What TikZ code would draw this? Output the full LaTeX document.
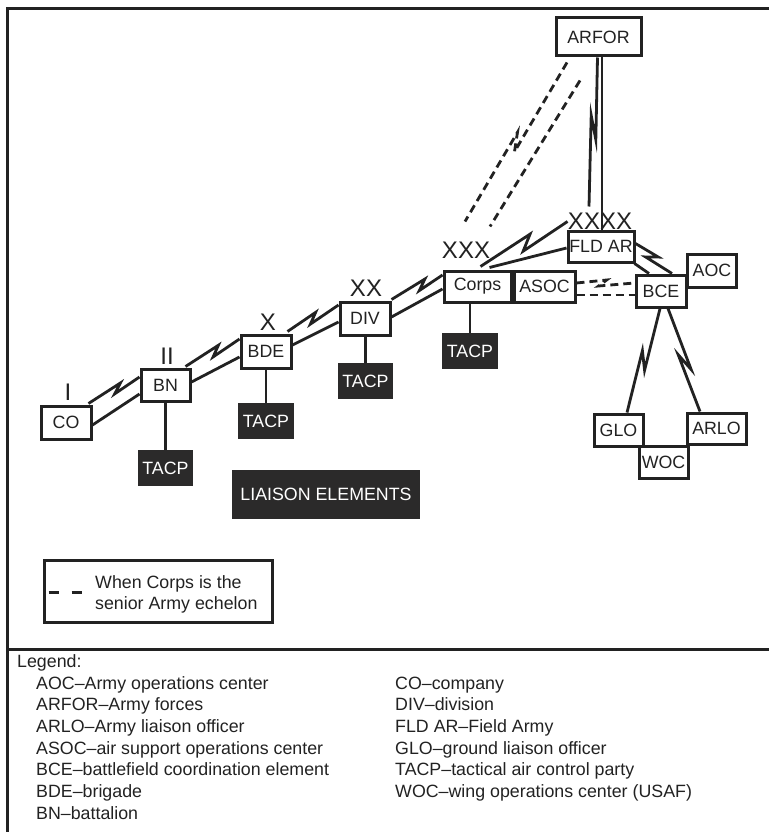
\documentclass[tikz,border=0pt]{standalone}
\usepackage{fontspec}
\setmainfont{Liberation Sans}
\usetikzlibrary{calc}

\definecolor{ink}{HTML}{222222}
\definecolor{boxfill}{HTML}{2B2A2A}

\tikzset{
  unit/.style={draw=ink, line width=3pt, fill=white, inner sep=0pt,
    font=\fontsize{17.8}{21}\selectfont, text=ink},
  darkunit/.style={fill=boxfill, inner sep=0pt,
    font=\fontsize{17.8}{21}\selectfont, text=white},
  echelon/.style={inner sep=0pt, font=\fontsize{24}{24}\selectfont, text=ink},
  link/.style={draw=ink, line width=2.8pt, line join=miter},
  altlink/.style={link, dash pattern=on 8pt off 5pt},
  keytext/.style={anchor=base west, inner sep=0pt,
    font=\fontsize{17.8}{21}\selectfont, text=ink},
  frameline/.style={draw=ink, line width=3pt},
}

% Link with a lightning-bolt break: [style]{from}{to}{position}{half length}{half offset}
\newcommand\boltlink[6][]{%
  \path (#2) coordinate (bolt-s) (#3) coordinate (bolt-e);
  \coordinate (bolt-m) at ($(bolt-s)!#4!(bolt-e)$);
  \coordinate (bolt-f) at ($(bolt-m)!#5!(bolt-e)$);
  \coordinate (bolt-b) at ($(bolt-m)!-#5!(bolt-e)$);
  \draw[link,#1] (bolt-s) -- ($(bolt-f)!#6!90:(bolt-e)$)
    -- ($(bolt-b)!#6!-90:(bolt-e)$) -- (bolt-e);
}

\begin{document}
\begin{tikzpicture}[x=1pt,y=-1pt]
\useasboundingbox (0,0) rectangle (769,832);

% outer frame and legend divider
\draw[frameline] (769,8.5) -- (7.5,8.5) -- (7.5,832);
\draw[frameline] (7.5,649) -- (769,649);

% echelon units
\node[unit, minimum width=85, minimum height=38] (arfor) at (598.5,37) {ARFOR};
\node[unit, minimum width=66, minimum height=31] (fldar) at (601,246.5) {FLD AR};
\node[unit, minimum width=67, minimum height=31] (corps) at (477.5,286.5) {Corps};
\node[unit, minimum width=50, minimum height=33] (div) at (365,318.5) {DIV};
\node[unit, minimum width=50, minimum height=33] (bde) at (266,351.5) {BDE};
\node[unit, minimum width=49, minimum height=32] (bn) at (165.5,385) {BN};
\node[unit, minimum width=50, minimum height=33] (co) at (66,422.5) {CO};
\node[unit, minimum width=50, minimum height=32] (bce) at (661,291) {BCE};

% air operations and liaison boxes
\node[unit, minimum width=49, minimum height=33] (aoc) at (712,270.5) {AOC};
\node[unit, minimum width=49, minimum height=32] (glo) at (618.5,430) {GLO};
\node[unit, minimum width=59, minimum height=31] (arlo) at (716.5,428.5) {ARLO};
\node[unit, minimum width=49, minimum height=32] (woc) at (663.5,462) {WOC};

% tactical air control parties
\node[darkunit, minimum width=55, minimum height=36] (tacpbn) at (165.5,468) {TACP};
\node[darkunit, minimum width=56, minimum height=36] (tacpbde) at (266,421) {TACP};
\node[darkunit, minimum width=55, minimum height=36] (tacpdiv) at (365.5,381) {TACP};
\node[darkunit, minimum width=56, minimum height=36] (tacpcorps) at (470,351) {TACP};
\node[darkunit, minimum width=188, minimum height=49] (liaison) at (326,494.5) {LIAISON ELEMENTS};

% echelon size marks
\node[echelon] (ech1) at (68,392.5) {I};
\node[echelon] (ech2) at (167,356) {II};
\node[echelon] (ech3) at (268,322.5) {X};
\node[echelon] (ech4) at (366,288.5) {XX};
\node[echelon] (ech5) at (466,250.5) {XXX};
\node[echelon] (ech6) at (600,221) {XXXX};

% radio and wire links up the chain of command
\boltlink{$(co.north east)+(-4,-1)$}{$(bn.west)+(0,-8)$}{0.57}{5pt}{3.5pt}
\draw[link] ($(co.east)+(0,2.5)$) -- ($(bn.west)+(0,9)$);
\boltlink{$(bn.north east)+(-6,-1)$}{$(bde.west)+(0,-12.5)$}{0.56}{5pt}{4pt}
\draw[link] ($(bn.east)+(0,-3)$) -- ($(bde.west)+(0,5.5)$);
\boltlink{$(bde.north east)+(-5,-2)$}{$(div.west)+(0,-13.5)$}{0.5}{5pt}{4pt}
\draw[link] ($(bde.east)+(0,-6.5)$) -- ($(div.west)+(0,3.5)$);
\boltlink{$(div.north east)+(0,-1)$}{$(corps.west)+(0,-11.5)$}{0.6}{5pt}{4pt}
\draw[link] ($(div.east)+(0,-1.5)$) -- ($(corps.west)+(0,2.5)$);
\boltlink{$(corps.north)+(3,-3)$}{$(fldar.north west)+(1,-8)$}{0.53}{7pt}{6pt}
\draw[link] ($(corps.north)+(12,-2)$) -- ($(fldar.west)+(0,1.5)$);

% Field Army to ARFOR
\boltlink{$(arfor.south)+(-1,0)$}{$(fldar.north)+(-12,-23)$}{0.47}{12pt}{3pt}
\draw[link] ($(arfor.south)+(3.5,0)$) -- ($(fldar.north)+(1,0)$);

% Field Army to BCE
\boltlink{$(fldar.east)+(0,-3)$}{$(bce.north)+(11,0)$}{0.45}{5pt}{4pt}
\draw[link] ($(fldar.south east)+(-1,0)$) -- ($(bce.north)+(-12,0)$);

% BCE to its liaison officers
\boltlink{$(bce.south)+(-1,0)$}{$(glo.north)+(8.5,0)$}{0.5}{9pt}{4pt}
\boltlink{$(bce.south)+(7,0)$}{$(arlo.north)+(-16.5,0)$}{0.52}{9pt}{4pt}

% TACP drops
\draw[link] (bn.south) -- (tacpbn.north);
\draw[link] (tacpbde.north |- bde.south) -- (tacpbde.north);
\draw[link] (tacpdiv.north |- div.south) -- (tacpdiv.north);
\draw[link] (tacpcorps.north |- corps.south) -- (tacpcorps.north);

% links used when Corps is the senior Army echelon
\boltlink[altlink]{$(arfor.south)+(-31.5,5)$}{$(corps.north)+(-12.5,-48)$}{0.5}{9pt}{4pt}
\draw[altlink] ($(arfor.south)+(-18.5,23)$) -- ($(corps.north)+(12.5,-43)$);

% air support operations center beside Corps
\node[unit, minimum width=61, minimum height=31, anchor=west] (asoc) at (corps.east) {ASOC};
\boltlink[altlink]{$(asoc.east)+(0,-3.5)$}{$(bce.west)+(0,-8)$}{0.45}{4pt}{3pt}
\draw[altlink] ($(asoc.east)+(0,8.5)$) -- ($(bce.west)+(0,4)$);

% key for the dashed links
\node[draw=ink, line width=3pt, minimum width=228, minimum height=62] (key) at (158,591.5) {};
\draw[link, dash pattern=on 10pt off 13pt] ($(key.west)+(6,1)$) coordinate (keyA) -- ($(key.west)+(39,1)$) coordinate (keyB);
\node[keytext] (key1) at (95,588) {When Corps is the};
\node[keytext] (key2) at (95,609) {senior Army echelon};

% abbreviations
\node[keytext] (legend) at (17,667) {Legend:};
\foreach \txt [count=\i] in {AOC–Army operations center, ARFOR–Army forces,
  ARLO–Army liaison officer, ASOC–air support operations center,
  BCE–battlefield coordination element, BDE–brigade, BN–battalion}
  \node[keytext] (abbrL\i) at (36,{689+(\i-1)*21.7}) {\txt};
\foreach \txt [count=\i] in {CO–company, DIV–division, FLD AR–Field Army,
  GLO–ground liaison officer, TACP–tactical air control party,
  WOC–wing operations center (USAF)}
  \node[keytext] (abbrR\i) at (395,{689+(\i-1)*21.7}) {\txt};
\end{tikzpicture}
\end{document}
